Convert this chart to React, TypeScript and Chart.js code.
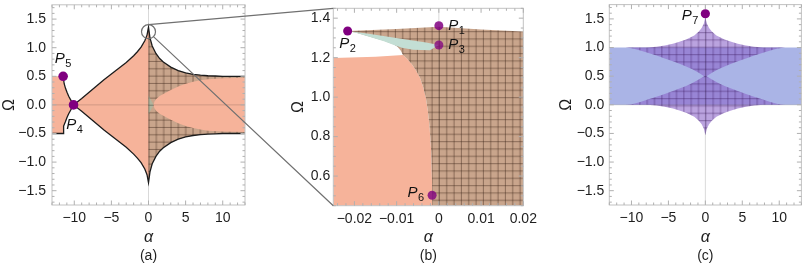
import React, { useEffect, useRef } from "react";
import { Chart, registerables } from "chart.js";

Chart.register(...registerables);

const FONT = "'Liberation Sans', 'DejaVu Sans', Arial, sans-serif";

// ---------------- Panel (a) data ----------------
const aAlphaRange = [-13, 13];
const aOmegaRange = [-1.75, 1.75];
const aXTicks = [-10, -5, 0, 5, 10];
const aXTickLabels = ["−10", "−5", "0", "5", "10"];
const aYTicks = [-1.5, -1, -0.5, 0, 0.5, 1, 1.5];
const aYTickLabels = ["−1.5", "−1.0", "−0.5", "0.0", "0.5", "1.0", "1.5"];
// outer boundary, upper branch: P4 -> cusp at alpha = 0
const aOuterLeftAlpha = [-10.1, -9, -8, -7, -6, -5, -4, -3, -2, -1.5, -1, -0.5, -0.2, 0];
const aOuterLeftOmega = [0, 0.11, 0.22, 0.33, 0.44, 0.54, 0.64, 0.74, 0.86, 0.93, 1.01, 1.12, 1.22, 1.36];
// outer boundary, upper branch: cusp -> right edge
const aOuterRightAlpha = [0, 0.2, 0.5, 1, 1.5, 2, 3, 4, 5, 6, 7, 8, 9, 10, 13];
const aOuterRightOmega = [1.36, 1.17, 1.03, 0.9, 0.81, 0.75, 0.66, 0.6, 0.56, 0.535, 0.52, 0.51, 0.505, 0.5, 0.5];
// inner (unhatched) lens, upper branch
const aInnerAlpha = [0.67, 0.8, 1, 1.5, 2, 3, 4, 5, 6, 7, 8, 10, 13];
const aInnerOmega = [0, 0.06, 0.1, 0.155, 0.19, 0.26, 0.32, 0.37, 0.405, 0.43, 0.45, 0.465, 0.475];
// small curves on the left: P5 -> P4 and lower corner -> P4
const aLeftUpperAlpha = [-11.5, -11.36, -11.18, -10.98, -10.75, -10.54, -10.3, -10.1];
const aLeftUpperOmega = [0.5, 0.37, 0.29, 0.22, 0.15, 0.1, 0.045, 0];
const aLeftLowerAlpha = [-11.5, -11.47, -11.4, -11.21, -10.98, -10.77, -10.4, -10.1];
const aLeftLowerOmega = [-0.5, -0.44, -0.37, -0.3, -0.22, -0.158, -0.071, 0];
const aSpotAlpha = [0, 0.67, 0];
const aSpotOmega = [0.17, 0, -0.17];
const aPointAlpha = [-11.5, -10.1];
const aPointOmega = [0.5, 0];
const aPointNames = ["5", "4"];
const zoomCircle = { alpha: 0, omega: 1.28 };

// ---------------- Panel (b) data ----------------
const bAlphaRange = [-0.025, 0.02];
const bOmegaRange = [0.45, 1.45];
const bXTicks = [-0.02, -0.01, 0, 0.01, 0.02];
const bXTickLabels = ["−0.02", "−0.01", "0", "0.01", "0.02"];
const bYTicks = [0.6, 0.8, 1.0, 1.2, 1.4];
const bYTickLabels = ["0.6", "0.8", "1.0", "1.2", "1.4"];
const bSalmonAlpha = [-0.025, -0.025, -0.015, -0.0085, -0.0075, -0.0064, -0.0054, -0.0045, -0.0037, -0.0031, -0.0026, -0.0022, -0.0018, -0.0016, -0.0016];
const bSalmonOmega = [0.45, 1.198, 1.205, 1.213, 1.195, 1.167, 1.135, 1.1, 1.05, 1.0, 0.93, 0.85, 0.72, 0.55, 0.45];
const bHatchAlpha = [-0.0016, 0.02, 0.02, 0.01, 0, -0.01, -0.0216, -0.0195, -0.0163, -0.013, -0.0105, -0.0098, -0.009, -0.0085, -0.0075, -0.0064, -0.0054, -0.0045, -0.0037, -0.0031, -0.0026, -0.0022, -0.0018, -0.0016];
const bHatchOmega = [0.45, 0.45, 1.332, 1.343, 1.356, 1.345, 1.335, 1.326, 1.306, 1.285, 1.265, 1.255, 1.235, 1.213, 1.195, 1.167, 1.135, 1.1, 1.05, 1.0, 0.93, 0.85, 0.72, 0.55];
const bTealAlpha = [-0.0216, -0.017, -0.012, -0.007, -0.003, 0, -0.0021, -0.0061, -0.0088, -0.0105, -0.013, -0.0163, -0.0195];
const bTealOmega = [1.335, 1.322, 1.306, 1.29, 1.277, 1.264, 1.238, 1.24, 1.25, 1.263, 1.283, 1.305, 1.325];
const bPointAlpha = [0, -0.0216, 0, -0.0016];
const bPointOmega = [1.362, 1.335, 1.264, 0.503];
const bPointNames = ["1", "2", "3", "6"];

// ---------------- Panel (c) data ----------------
const cAlphaRange = [-13, 13];
const cOmegaRange = [-1.75, 1.75];
const cXTicks = [-10, -5, 0, 5, 10];
const cXTickLabels = ["−10", "−5", "0", "5", "10"];
const cYTicks = [-1.5, -1, -0.5, 0, 0.5, 1, 1.5];
const cYTickLabels = ["−1.5", "−1.0", "−0.5", "0.0", "0.5", "1.0", "1.5"];
const cBandAlpha = [-13, 13, 13, -13];
const cBandOmega = [0, 0, 1, 1];
// star outer boundary (upper right quarter): top cusp -> band top
const cOuterAlpha = [0, 0.2, 0.5, 0.88, 1.5, 2.6, 3.5, 4.4, 5.5, 6.6, 7.9];
const cOuterOmega = [1.53, 1.42, 1.34, 1.28, 1.21, 1.14, 1.1, 1.065, 1.035, 1.012, 1.0];
// right inner lens upper edge: tip -> band top
const cInnerAlpha = [0.15, 0.9, 1.75, 2.6, 3.5, 4.4, 5.5, 6.6, 7.7, 8.8, 9.8, 10.8];
const cInnerOmega = [0.5, 0.56, 0.62, 0.67, 0.715, 0.76, 0.81, 0.86, 0.905, 0.95, 0.985, 1.0];
const cPointAlpha = [0];
const cPointOmega = [1.59];
const cPointNames = ["7"];

// ---------------- styles ----------------
const SALMON = "#F6B39A";
const TEAL = "#C3DED4";
const BLUE = "#AAB4E6";
const PURPLE = "#800080";
const OUTLINE = "#1c1c1c";
const AXISLINE = "rgba(0,0,0,0.15)";
const FRAME = "#c2c2c2";
const TICKTEXT = "#1e1e1e";
const CAPTION_Y = 256.5;
const TICK_SIZE = 14;
const TITLE_SIZE = 16;

type P = { x: number; y: number };
const toPts = (xs: number[], ys: number[]): P[] => xs.map((x, i) => ({ x, y: ys[i] }));
const flipY = (p: P[], c = 0): P[] => p.map((q) => ({ x: q.x, y: 2 * c - q.y }));
const flipX = (p: P[]): P[] => p.map((q) => ({ x: -q.x, y: q.y }));
const rev = (p: P[]): P[] => [...p].reverse();

function makeHatch(ctx: CanvasRenderingContext2D, bg: string, line: string) {
  const size = 22;
  const c = document.createElement("canvas");
  c.width = size;
  c.height = size;
  const g = c.getContext("2d")!;
  g.fillStyle = bg;
  g.fillRect(0, 0, size, size);
  g.strokeStyle = line;
  g.lineWidth = 1;
  g.beginPath();
  for (let i = 0; i < 3; i++) {
    const p = (i * size) / 3 + 0.5;
    g.moveTo(p, 0);
    g.lineTo(p, size);
  }
  g.stroke();
  g.beginPath();
  for (let i = 0; i < 3; i++) {
    const p = (i * size) / 3 + 0.5;
    g.moveTo(0, p);
    g.lineTo(size, p);
  }
  g.stroke();
  return ctx.createPattern(c, "repeat")!;
}

const polyDS = (data: P[], color: any, order: number) => ({
  data,
  showLine: true,
  fill: "shape",
  backgroundColor: color,
  borderColor: "rgba(0,0,0,0)",
  borderWidth: 0,
  pointRadius: 0,
  pointHitRadius: 0,
  tension: 0,
  order,
});
const lineDS = (data: P[], color: string, width: number, order: number) => ({
  data,
  showLine: true,
  fill: false,
  borderColor: color,
  borderWidth: width,
  pointRadius: 0,
  pointHitRadius: 0,
  tension: 0,
  order,
});
const pointDS = (data: P[], colors: string[], r: number) => ({
  data,
  showLine: false,
  pointRadius: r,
  pointBackgroundColor: colors,
  pointBorderWidth: 0,
  borderColor: "rgba(0,0,0,0)",
  order: 0,
});

interface LabelSpec { sub: string; dx: number; dy: number; align: "left" | "right" | "center" }
interface Spec {
  xRange: number[]; yRange: number[];
  xTicks: number[]; xLabels: string[]; yTicks: number[]; yLabels: string[];
  xMinor: number; yMinor: number;
  yAxisWidth: number; xAxisHeight: number; padTop: number; padRight: number;
  yTickPad: number; xTickPad: number; yTitlePad: number; xTitlePad: number;
  caption: string;
  datasets: any[];
  hatches: { pattern: CanvasPattern; ax: number; ay: number }[];
  pointsIndex: number;
  labels: LabelSpec[];
}

function drawP(ctx: CanvasRenderingContext2D, x: number, y: number, sub: string, align: string) {
  ctx.font = `italic 15px ${FONT}`;
  const wP = ctx.measureText("P").width;
  ctx.font = `11px ${FONT}`;
  const wS = ctx.measureText(sub).width;
  const total = wP + wS + 0.5;
  const x0 = align === "left" ? x : align === "right" ? x - total : x - total / 2;
  ctx.fillStyle = "#111";
  ctx.textAlign = "left";
  ctx.textBaseline = "middle";
  ctx.font = `italic 15px ${FONT}`;
  ctx.fillText("P", x0, y);
  ctx.font = `11px ${FONT}`;
  ctx.fillText(sub, x0 + wP + 0.5, y + 5);
}

function decoPlugin(s: Spec) {
  return {
    id: "deco",
    beforeDatasetsDraw(chart: any) {
      for (const h of s.hatches) {
        const px = chart.scales.x.getPixelForValue(h.ax);
        const py = chart.scales.y.getPixelForValue(h.ay);
        h.pattern.setTransform(new DOMMatrix([1, 0, 0, 1, px, py]));
      }
    },
    afterDatasetsDraw(chart: any) {
      const ctx: CanvasRenderingContext2D = chart.ctx;
      const ca = chart.chartArea;
      const xs = chart.scales.x;
      const ys = chart.scales.y;
      ctx.save();
      ctx.strokeStyle = FRAME;
      ctx.lineWidth = 1;
      ctx.strokeRect(ca.left, ca.top, ca.right - ca.left, ca.bottom - ca.top);
      ctx.beginPath();
      const n0 = Math.ceil(s.xRange[0] / s.xMinor - 1e-6);
      const n1 = Math.floor(s.xRange[1] / s.xMinor + 1e-6);
      for (let n = n0; n <= n1; n++) {
        const v = n * s.xMinor;
        const major = s.xTicks.some((t) => Math.abs(t - v) < s.xMinor * 1e-3);
        const len = major ? 4.5 : 2.5;
        const px = xs.getPixelForValue(v);
        ctx.moveTo(px, ca.bottom);
        ctx.lineTo(px, ca.bottom - len);
        ctx.moveTo(px, ca.top);
        ctx.lineTo(px, ca.top + len);
      }
      const m0 = Math.ceil(s.yRange[0] / s.yMinor - 1e-6);
      const m1 = Math.floor(s.yRange[1] / s.yMinor + 1e-6);
      for (let n = m0; n <= m1; n++) {
        const v = n * s.yMinor;
        const major = s.yTicks.some((t) => Math.abs(t - v) < s.yMinor * 1e-3);
        const len = major ? 4.5 : 2.5;
        const py = ys.getPixelForValue(v);
        ctx.moveTo(ca.left, py);
        ctx.lineTo(ca.left + len, py);
        ctx.moveTo(ca.right, py);
        ctx.lineTo(ca.right - len, py);
      }
      ctx.strokeStyle = "#b0b0b0";
      ctx.stroke();
      const meta = chart.getDatasetMeta(s.pointsIndex);
      s.labels.forEach((lb, i) => {
        const el = meta.data[i];
        if (el) drawP(ctx, el.x + lb.dx, el.y + lb.dy, lb.sub, lb.align);
      });
      ctx.font = `14px ${FONT}`;
      ctx.fillStyle = TICKTEXT;
      ctx.textAlign = "center";
      ctx.textBaseline = "middle";
      ctx.fillText(s.caption, (ca.left + ca.right) / 2, CAPTION_Y);
      ctx.restore();
    },
  };
}

const findLabel = (ticks: number[], labels: string[], v: number) => {
  const i = ticks.findIndex((t) => Math.abs(t - v) < 1e-9);
  return i >= 0 ? labels[i] : "";
};

function buildConfig(s: Spec): any {
  return {
    type: "scatter",
    data: { datasets: s.datasets },
    options: {
      animation: false,
      responsive: false,
      devicePixelRatio: 1,
      events: [],
      layout: { padding: { top: s.padTop, right: s.padRight, left: 0, bottom: 0 } },
      plugins: { legend: { display: false }, tooltip: { enabled: false }, title: { display: false } },
      scales: {
        x: {
          type: "linear",
          position: "bottom",
          min: s.xRange[0],
          max: s.xRange[1],
          grid: { display: false, drawTicks: false },
          border: { display: false },
          afterBuildTicks: (sc: any) => {
            sc.ticks = s.xTicks.map((v) => ({ value: v }));
          },
          afterFit: (sc: any) => {
            sc.height = s.xAxisHeight;
            sc.paddingLeft = 0;
            sc.paddingRight = 0;
          },
          ticks: {
            padding: s.xTickPad,
            color: TICKTEXT,
            font: { size: TICK_SIZE, family: FONT },
            maxRotation: 0,
            autoSkip: false,
            callback: (v: number) => findLabel(s.xTicks, s.xLabels, v),
          },
          title: {
            display: true,
            text: "α",
            color: TICKTEXT,
            font: { size: TITLE_SIZE, style: "italic", family: FONT },
            padding: { top: 0, bottom: s.xTitlePad },
          },
        },
        y: {
          type: "linear",
          position: "left",
          min: s.yRange[0],
          max: s.yRange[1],
          grid: { display: false, drawTicks: false },
          border: { display: false },
          afterBuildTicks: (sc: any) => {
            sc.ticks = s.yTicks.map((v) => ({ value: v }));
          },
          afterFit: (sc: any) => {
            sc.width = s.yAxisWidth;
            sc.paddingTop = 0;
            sc.paddingBottom = 0;
          },
          ticks: {
            padding: s.yTickPad,
            color: TICKTEXT,
            font: { size: TICK_SIZE, family: FONT },
            autoSkip: false,
            callback: (v: number) => findLabel(s.yTicks, s.yLabels, v),
          },
          title: {
            display: true,
            text: "Ω",
            color: TICKTEXT,
            font: { size: TITLE_SIZE, family: FONT },
            padding: { top: s.yTitlePad, bottom: 0 },
          },
        },
      },
    },
    plugins: [decoPlugin(s)],
  };
}

const A_LEFT = 0, A_W = 268;
const B_LEFT = 268, B_W = 270;
const C_LEFT = 538, C_W = 268;
const H = 268;

export default function App() {
  const refA = useRef<HTMLCanvasElement>(null);
  const refB = useRef<HTMLCanvasElement>(null);
  const refC = useRef<HTMLCanvasElement>(null);
  const refO = useRef<HTMLCanvasElement>(null);

  useEffect(() => {
    Chart.defaults.font.family = FONT;
    // ----- panel (a)
    const ctxA = refA.current!.getContext("2d")!;
    const hatchA = makeHatch(ctxA, "#C9A58C", "rgba(60,38,25,0.45)");
    const aUL = toPts(aOuterLeftAlpha, aOuterLeftOmega);
    const aUR = toPts(aOuterRightAlpha, aOuterRightOmega);
    const aLL = flipY(aUL);
    const aLR = flipY(aUR);
    const aIU = toPts(aInnerAlpha, aInnerOmega);
    const aIL = flipY(aIU);
    const aSU = toPts(aLeftUpperAlpha, aLeftUpperOmega);
    const aSL = toPts(aLeftLowerAlpha, aLeftLowerOmega);
    const aLeftPoly = [{ x: aAlphaRange[0], y: aSU[0].y }, ...aSU, ...rev(aSL), { x: aAlphaRange[0], y: aSL[0].y }];
    const aLensPoly = [...aUL, ...aUR.slice(1), ...rev(aLR), ...rev(aLL).slice(1)];
    const aHatchPoly = [...aUR, ...rev(aIU), ...aIL.slice(1), ...rev(aLR)];
    const aX1 = [{ x: aAlphaRange[0], y: aSL[0].y }, ...aSL, ...aUL.slice(1), ...aUR.slice(1)];
    const aX2 = [...aSU, ...aLL.slice(1), ...aLR.slice(1)];
    const specA: Spec = {
      xRange: aAlphaRange, yRange: aOmegaRange,
      xTicks: aXTicks, xLabels: aXTickLabels, yTicks: aYTicks, yLabels: aYTickLabels,
      xMinor: 1, yMinor: 0.1,
      yAxisWidth: 52, xAxisHeight: 63, padTop: 3.3, padRight: 23,
      yTickPad: 6, xTickPad: 4.6, yTitlePad: 0.4, xTitlePad: 20.4,
      caption: "(a)",
      datasets: [
        pointDS(toPts(aPointAlpha, aPointOmega), [PURPLE, PURPLE], 4.8),
        polyDS(aLeftPoly, SALMON, 9),
        polyDS(aLensPoly, SALMON, 9),
        polyDS(aHatchPoly, hatchA, 8),
        polyDS(toPts(aSpotAlpha, aSpotOmega), "rgba(150,200,180,0.45)", 7),
        lineDS([{ x: 0, y: aOmegaRange[0] }, { x: 0, y: aOmegaRange[1] }], AXISLINE, 1, 5),
        lineDS([{ x: aAlphaRange[0], y: 0 }, { x: aAlphaRange[1], y: 0 }], AXISLINE, 1, 5),
        lineDS(aX1, OUTLINE, 1.3, 3),
        lineDS(aX2, OUTLINE, 1.3, 3),
      ],
      hatches: [{ pattern: hatchA, ax: 0, ay: 0 }],
      pointsIndex: 0,
      labels: [
        { sub: aPointNames[0], dx: 0, dy: -17, align: "center" },
        { sub: aPointNames[1], dx: 1, dy: 20, align: "center" },
      ],
    };
    const chartA = new Chart(refA.current!, buildConfig(specA));

    // ----- panel (b)
    const ctxB = refB.current!.getContext("2d")!;
    const hatchB = makeHatch(ctxB, "#C9A58C", "rgba(60,38,25,0.45)");
    const specB: Spec = {
      xRange: bAlphaRange, yRange: bOmegaRange,
      xTicks: bXTicks, xLabels: bXTickLabels, yTicks: bYTicks, yLabels: bYTickLabels,
      xMinor: 0.002, yMinor: 0.05,
      yAxisWidth: 65.3, xAxisHeight: 62.3, padTop: 8.3, padRight: 14.7,
      yTickPad: 3, xTickPad: 4.6, yTitlePad: 21.4, xTitlePad: 20.4,
      caption: "(b)",
      datasets: [
        pointDS(toPts(bPointAlpha, bPointOmega), ["rgba(128,0,128,0.85)", PURPLE, "rgba(128,0,128,0.75)", "rgba(128,0,128,0.8)"], 4.5),
        polyDS(toPts(bSalmonAlpha, bSalmonOmega), SALMON, 9),
        polyDS(toPts(bHatchAlpha, bHatchOmega), hatchB, 8),
        polyDS(toPts(bTealAlpha, bTealOmega), TEAL, 7),
        lineDS([{ x: 0, y: bOmegaRange[0] }, { x: 0, y: bOmegaRange[1] }], AXISLINE, 1, 5),
      ],
      hatches: [{ pattern: hatchB, ax: 0, ay: 1 }],
      pointsIndex: 0,
      labels: [
        { sub: bPointNames[0], dx: 9.5, dy: 0, align: "left" },
        { sub: bPointNames[1], dx: 0, dy: 13, align: "center" },
        { sub: bPointNames[2], dx: 9.5, dy: 0, align: "left" },
        { sub: bPointNames[3], dx: -8, dy: -2, align: "right" },
      ],
    };
    const chartB = new Chart(refB.current!, buildConfig(specB));

    // ----- panel (c)
    const ctxC = refC.current!.getContext("2d")!;
    const hatchC = makeHatch(ctxC, "rgba(140,102,202,0.6)", "rgba(55,20,90,0.4)");
    const cOU = toPts(cOuterAlpha, cOuterOmega);
    const cIU = toPts(cInnerAlpha, cInnerOmega);
    const cOL = flipY(cOU, 0.5);
    const cIL = flipY(cIU, 0.5);
    const cRight = [...cOU, ...rev(cIU), ...cIL.slice(1), ...rev(cOL)];
    const cLeft = rev(flipX(cRight));
    const cStar = [...cRight, ...cLeft.slice(1)];
    const specC: Spec = {
      xRange: cAlphaRange, yRange: cOmegaRange,
      xTicks: cXTicks, xLabels: cXTickLabels, yTicks: cYTicks, yLabels: cYTickLabels,
      xMinor: 1, yMinor: 0.1,
      yAxisWidth: 71.3, xAxisHeight: 63, padTop: 3.3, padRight: 2,
      yTickPad: 5, xTickPad: 4.6, yTitlePad: 19.4, xTitlePad: 20.4,
      caption: "(c)",
      datasets: [
        pointDS(toPts(cPointAlpha, cPointOmega), [PURPLE], 4.6),
        polyDS(toPts(cBandAlpha, cBandOmega), BLUE, 9),
        polyDS(cStar, hatchC, 8),
        lineDS([{ x: 0, y: cOmegaRange[0] }, { x: 0, y: cOmegaRange[1] }], AXISLINE, 1, 5),
        lineDS([{ x: cAlphaRange[0], y: 0 }, { x: cAlphaRange[1], y: 0 }], AXISLINE, 1, 5),
      ],
      hatches: [{ pattern: hatchC, ax: 0, ay: 0.5 }],
      pointsIndex: 0,
      labels: [{ sub: cPointNames[0], dx: -7, dy: 2, align: "right" }],
    };
    const chartC = new Chart(refC.current!, buildConfig(specC));

    // ----- connector overlay
    const oc = refO.current!.getContext("2d")!;
    oc.clearRect(0, 0, 806, H);
    const cx = A_LEFT + chartA.scales.x.getPixelForValue(zoomCircle.alpha);
    const cy = chartA.scales.y.getPixelForValue(zoomCircle.omega);
    const r = 7;
    oc.strokeStyle = "#707070";
    oc.lineWidth = 1.2;
    oc.beginPath();
    oc.arc(cx, cy, r, 0, Math.PI * 2);
    oc.stroke();
    const bx = B_LEFT + chartB.chartArea.left;
    oc.beginPath();
    oc.moveTo(cx, cy - r);
    oc.lineTo(bx, chartB.chartArea.top);
    oc.moveTo(cx + r * Math.cos(Math.PI / 4), cy + r * Math.sin(Math.PI / 4));
    oc.lineTo(bx, chartB.chartArea.bottom);
    oc.stroke();

    return () => {
      chartA.destroy();
      chartB.destroy();
      chartC.destroy();
    };
  }, []);

  return (
    <div style={{ position: "absolute", left: 0, top: 0, width: 806, height: H, background: "#fff", overflow: "hidden" }}>
      <canvas ref={refA} width={A_W} height={H} style={{ position: "absolute", left: A_LEFT, top: 0 }} />
      <canvas ref={refB} width={B_W} height={H} style={{ position: "absolute", left: B_LEFT, top: 0 }} />
      <canvas ref={refC} width={C_W} height={H} style={{ position: "absolute", left: C_LEFT, top: 0 }} />
      <canvas ref={refO} width={806} height={H} style={{ position: "absolute", left: 0, top: 0, pointerEvents: "none" }} />
    </div>
  );
}
